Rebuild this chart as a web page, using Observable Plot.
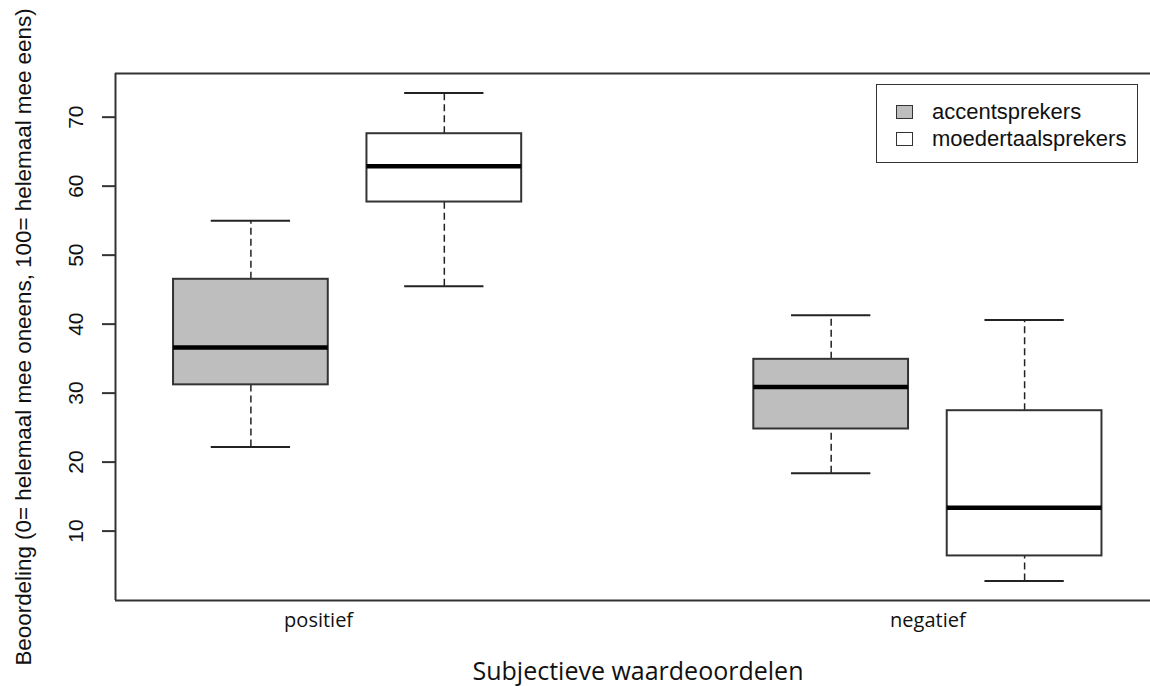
<!DOCTYPE html>
<html>
<head>
<meta charset="utf-8">
<script src="https://cdn.jsdelivr.net/npm/d3@7"></script>
<script src="https://cdn.jsdelivr.net/npm/@observablehq/plot@0.6"></script>
<style>
html, body { margin: 0; padding: 0; background: #fff; overflow: hidden; }
#wrap { position: relative; width: 1150px; height: 686px; overflow: hidden; }
#legend { position: absolute; left: 876px; top: 84px; width: 262px; height: 79px; border: 1.5px solid #333; box-sizing: border-box; background: #fff; font-family: "Liberation Sans", Arial, sans-serif; font-size: 22px; color: #111; }
.sw { position: absolute; left: 19px; width: 17px; height: 14px; border: 1.5px solid #333; box-sizing: border-box; }
.lt { position: absolute; left: 55px; line-height: 26px; white-space: nowrap; }
</style>
</head>
<body>
<div id="wrap"><div id="chart"></div><div id="legend"></div></div>
<script>
// ---- data ----
const groups = ["positief", "positief", "negatief", "negatief"];
const series = ["accentsprekers", "moedertaalsprekers", "accentsprekers", "moedertaalsprekers"];
const positions = [1, 2, 4, 5];
const lowWhisker = [22.2, 45.5, 18.4, 2.75];
const q1 = [31.2, 57.7, 24.8, 6.4];
const medians = [36.6, 62.9, 30.9, 13.4];
const q3 = [46.5, 67.6, 34.9, 27.45];
const highWhisker = [55.0, 73.5, 41.3, 40.6];
const seriesNames = ["accentsprekers", "moedertaalsprekers"];
const seriesFills = ["#bebebe", "#ffffff"];
const groupNames = ["positief", "negatief"];
const groupTickPos = [1.35, 4.5];
const yTicks = [10, 20, 30, 40, 50, 60, 70];
const xLabel = "Subjectieve waardeoordelen";
const yLabel = "Beoordeling (0= helemaal mee oneens, 100= helemaal mee eens)";

const rows = positions.map((p, i) => ({
  pos: p, group: groups[i], series: series[i],
  lo: lowWhisker[i], q1: q1[i], med: medians[i], q3: q3[i], hi: highWhisker[i]
}));
const halfBox = 0.4, halfCap = 0.205;
const xDomain = [0.3, 5.7];
const yDomain = [-0.06, 76.33];
const ink = "#222";

const chart = Plot.plot({
  width: 1150,
  height: 686,
  marginLeft: 115,
  marginTop: 73,
  marginBottom: 86,
  marginRight: 0,
  x: { domain: xDomain, range: [115, 1159.5] },
  y: { domain: yDomain },
  color: { domain: seriesNames, range: seriesFills },
  style: { background: "white", color: "#111", overflow: "hidden" },
  marks: [
    Plot.ruleX(rows, { x: "pos", y1: "q3", y2: "hi", stroke: ink, strokeWidth: 1.5, strokeDasharray: "7,4" }),
    Plot.ruleX(rows, { x: "pos", y1: "lo", y2: "q1", stroke: ink, strokeWidth: 1.5, strokeDasharray: "7,4" }),
    Plot.ruleY(rows, { y: "hi", x1: d => d.pos - halfCap, x2: d => d.pos + halfCap, stroke: ink, strokeWidth: 2 }),
    Plot.ruleY(rows, { y: "lo", x1: d => d.pos - halfCap, x2: d => d.pos + halfCap, stroke: ink, strokeWidth: 2 }),
    Plot.rect(rows, { x1: d => d.pos - halfBox, x2: d => d.pos + halfBox, y1: "q1", y2: "q3", fill: "series", stroke: "#333", strokeWidth: 2 }),
    Plot.ruleY(rows, { y: "med", x1: d => d.pos - halfBox, x2: d => d.pos + halfBox, stroke: "#000", strokeWidth: 4.5 }),
    Plot.ruleY(yDomain, { stroke: "#333", strokeWidth: 2 }),
    Plot.ruleX([xDomain[0]], { stroke: "#333", strokeWidth: 2 }),
    Plot.axisY({ ticks: yTicks, tickSize: 13, tickPadding: 20, tickRotate: -90, fontSize: 21, fontFamily: "Liberation Sans, Arial, sans-serif", label: null, stroke: "#333", strokeWidth: 2 }),
    Plot.axisX({ ticks: groupTickPos, tickFormat: d => groupNames[groupTickPos.indexOf(d)], tickSize: 0, tickPadding: 12, fontSize: 20, fontFamily: "Open Sans, sans-serif", label: null }),
    Plot.text([xLabel], { frameAnchor: "bottom", dy: 79, dx: 5, fontSize: 25, fontFamily: "Open Sans, sans-serif", fill: "#111" }),
    Plot.text([yLabel], { frameAnchor: "left", textAnchor: "middle", rotate: -90, dx: -92, fontSize: 22.4, fontFamily: "Liberation Sans, Arial, sans-serif", fill: "#111" })
  ]
});
document.getElementById("chart").appendChild(chart);

// legend
const legend = document.getElementById("legend");
seriesNames.forEach((name, i) => {
  const sw = document.createElement("div");
  sw.className = "sw";
  sw.style.top = (20 + i * 27) + "px";
  sw.style.background = seriesFills[i];
  legend.appendChild(sw);
  const t = document.createElement("div");
  t.className = "lt";
  t.style.top = (14 + i * 27) + "px";
  t.textContent = name;
  legend.appendChild(t);
});
</script>
</body>
</html>
